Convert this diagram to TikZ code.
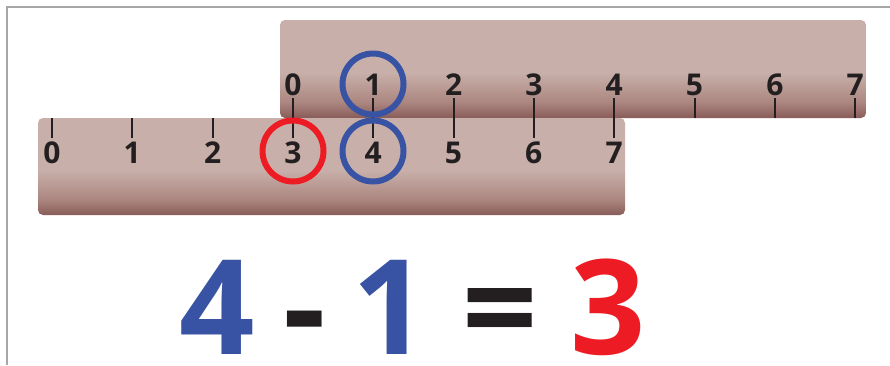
\documentclass[tikz,border=0pt]{standalone}
\usepackage{fontspec}
\setmainfont{Open Sans}

\definecolor{rulerlight}{RGB}{200,175,169}
\definecolor{rulermid}{RGB}{172,134,128}
\definecolor{rulerdark}{RGB}{136,92,88}
\definecolor{tickgray}{RGB}{35,31,32}
\definecolor{eqblue}{RGB}{57,83,164}
\definecolor{eqred}{RGB}{237,28,36}

\pgfdeclareverticalshading{rulershade}{100bp}{color(0bp)=(rulerdark); color(25bp)=(rulerdark); color(33bp)=(rulermid); color(48bp)=(rulerlight); color(100bp)=(rulerlight)}

\tikzset{
  ruler/.style={rounded corners=5pt, shading=rulershade},
  tickline/.style={line width=2pt, draw=tickgray},
  numlab/.style={font=\bfseries\fontsize{30}{30}\selectfont, text=tickgray, inner sep=0pt, anchor=base},
  ring/.style={circle, line width=6pt, minimum size=61pt, inner sep=0pt},
  bigdigit/.style={font=\bfseries\fontsize{132}{132}\selectfont, inner sep=0pt, anchor=base}
}

\begin{document}
\begin{tikzpicture}[x=1pt,y=-1pt]
  \useasboundingbox (0,0) rectangle (890,365);
  \draw[gray!70, line width=1.5pt] (7,365) -- (7,7) -- (890,7);

  % the two rulers
  \shade[ruler] (280,20) rectangle (866,118);
  \shade[ruler] (38,118) rectangle (625,215);

  \foreach \i in {0,...,7} {
    \draw[tickline] (293+80.3*\i,98) -- (293+80.3*\i,118);
    \node[numlab] (up\i) at (293+80.3*\i,95) {\i};
    \draw[tickline] (52+80.3*\i,118) -- (52+80.3*\i,138);
    \node[numlab] (low\i) at (52+80.3*\i,163) {\i};
  }

  % circled numbers
  \node[ring, draw=eqblue] (ringone) at (373,84) {};
  \node[ring, draw=eqblue] (ringfour) at (373,151) {};
  \node[ring, draw=eqred] (ringthree) at (293,151) {};

  % the sum
  \node[bigdigit, text=eqblue] (four) at (217,354) {4};
  \node[bigdigit, text=tickgray] (minus) at (305,354) {-};
  \node[bigdigit, text=eqblue] (one) at (390,354) {1};
  \node[bigdigit, text=tickgray] (equals) at (500,354) {=};
  \node[bigdigit, text=eqred] (three) at (608,354) {3};
\end{tikzpicture}
\end{document}
